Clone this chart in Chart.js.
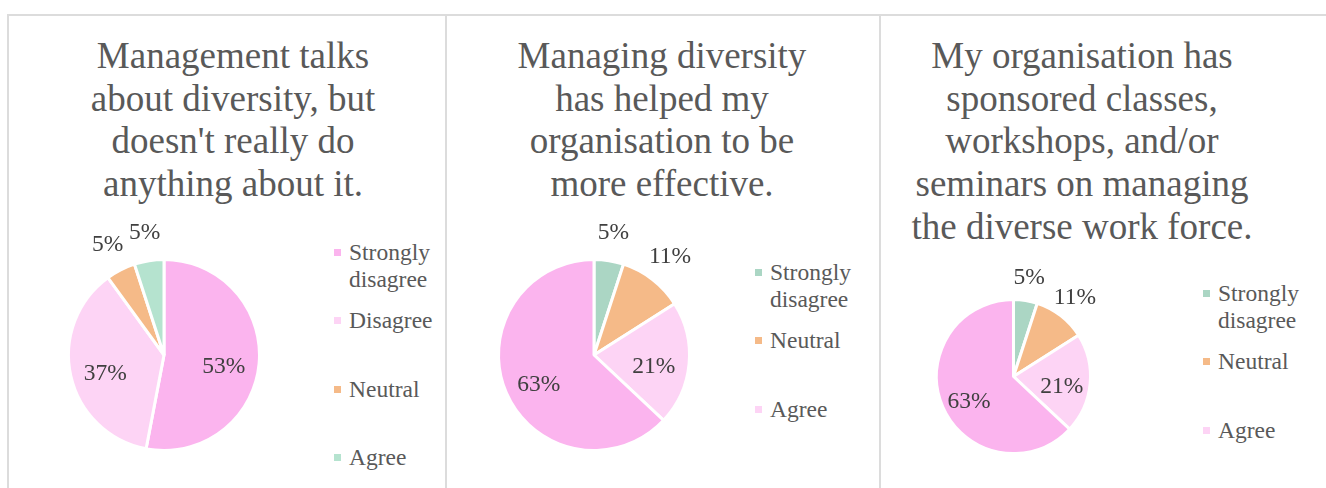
<!DOCTYPE html>
<html>
<head>
<meta charset="utf-8">
<script src="https://cdn.jsdelivr.net/npm/chart.js@4.4.1/dist/chart.umd.min.js"></script>
<style>
  html, body { margin: 0; padding: 0; background: #fff; }
  body { width: 1326px; height: 488px; position: relative; overflow: hidden; font-family: "Liberation Serif", "Times New Roman", serif; }
  .panel { position: absolute; top: 14px; height: 500px; border-top: 2px solid #dcdcdc; border-left: 2px solid #dcdcdc; box-sizing: border-box; }
  .title { position: absolute; text-align: center; color: #595959; font-size: 37px; line-height: 42.7px; white-space: nowrap; }
  .legend { position: absolute; color: #595959; font-size: 23.5px; line-height: 27px; }
  .legend .item { position: absolute; left: 0; white-space: nowrap; }
  .legend .box { position: absolute; width: 7px; height: 7px; left: 0; top: 10px; }
  .legend .text { position: absolute; left: 15px; top: 0; }
  canvas { position: absolute; }
</style>
</head>
<body>
<div class="panel" style="left:7px;width:440px;"></div>
<div class="panel" style="left:445px;width:436px;"></div>
<div class="panel" style="left:879px;width:460px;"></div>

<script>
// survey answers, percent of respondents
const titles1 = ['Management talks', 'about diversity, but', "doesn't really do", 'anything about it.'];
const labels1 = ['Strongly disagree', 'Disagree', 'Neutral', 'Agree'];
const values1 = [53, 37, 5, 5];

const titles2 = ['Managing diversity', 'has helped my', 'organisation to be', 'more effective.'];
const labels2 = ['Strongly disagree', 'Neutral', 'Agree', 'Strongly agree'];
const values2 = [5, 11, 21, 63];

const titles3 = ['My organisation has', 'sponsored classes,', 'workshops, and/or', 'seminars on managing', 'the diverse work force.'];
const labels3 = ['Strongly disagree', 'Neutral', 'Agree', 'Strongly agree'];
const values3 = [5, 11, 21, 63];

// legend only lists the first entries
const legendCount = [4, 3, 3];

const colors1 = ['#fbb4ee', '#fdd4f5', '#f5ba88', '#b5e3cf'];
const colors2 = ['#abd6c4', '#f5ba88', '#fdd4f5', '#fbb4ee'];
const colors3 = ['#abd6c4', '#f5ba88', '#fdd4f5', '#fbb4ee'];

const panels = [
  { titles: titles1, labels: labels1, values: values1, colors: colors1,
    titleX: 233, titleY: 35, cx: 163.5, cy: 355, r: 95.5, legendX: 334, legendY: 238.5 },
  { titles: titles2, labels: labels2, values: values2, colors: colors2,
    titleX: 662, titleY: 35, cx: 593.5, cy: 354.5, r: 95.5, legendX: 755, legendY: 258.5 },
  { titles: titles3, labels: labels3, values: values3, colors: colors3,
    titleX: 1082, titleY: 35, cx: 1013.5, cy: 376, r: 77, legendX: 1203, legendY: 279.5 }
];

const PAD = 60;
const BORDER = 3;
const SLOT = 68.5;

// percent labels: big slices inside, small ones pushed outside the pie
const pctLabels = {
  id: 'pctLabels',
  afterDatasetsDraw(chart) {
    const ctx = chart.ctx;
    const data = chart.data.datasets[0].data;
    const total = data.reduce((a, b) => a + b, 0);
    ctx.save();
    ctx.font = '23.5px "Liberation Serif", serif';
    ctx.fillStyle = '#404040';
    ctx.textAlign = 'center';
    ctx.textBaseline = 'middle';
    chart.getDatasetMeta(0).data.forEach((arc, i) => {
      const share = data[i] / total;
      const p = arc.getProps(['x', 'y', 'startAngle', 'endAngle', 'outerRadius'], true);
      const mid = (p.startAngle + p.endAngle) / 2;
      const dist = share < 0.15 ? p.outerRadius * 1.3 : p.outerRadius * 0.63;
      const x = p.x + Math.cos(mid) * dist;
      const y = p.y + Math.sin(mid) * dist;
      ctx.fillText(Math.round(share * 100) + '%', x, y + (share < 0.15 ? 0 : 6));
    });
    ctx.restore();
  }
};

panels.forEach((p, n) => {
  const title = document.createElement('div');
  title.className = 'title';
  title.style.left = (p.titleX - 250) + 'px';
  title.style.width = '500px';
  title.style.top = p.titleY + 'px';
  title.innerHTML = p.titles.join('<br>');
  document.body.appendChild(title);

  const size = Math.round(2 * p.r + BORDER + 2 * PAD);
  const canvas = document.createElement('canvas');
  canvas.width = size;
  canvas.height = size;
  canvas.style.left = (p.cx - size / 2) + 'px';
  canvas.style.top = (p.cy - size / 2) + 'px';
  document.body.appendChild(canvas);

  new Chart(canvas, {
    type: 'pie',
    data: {
      labels: p.labels,
      datasets: [{
        data: p.values,
        backgroundColor: p.colors,
        borderColor: '#ffffff',
        borderWidth: BORDER
      }]
    },
    options: {
      responsive: false,
      animation: false,
      events: [],
      layout: { padding: PAD },
      plugins: {
        legend: { display: false },
        tooltip: { enabled: false }
      }
    },
    plugins: [pctLabels]
  });

  const legend = document.createElement('div');
  legend.className = 'legend';
  legend.style.left = p.legendX + 'px';
  legend.style.top = p.legendY + 'px';
  p.labels.slice(0, legendCount[n]).forEach((label, i) => {
    const item = document.createElement('div');
    item.className = 'item';
    item.style.top = (i * SLOT) + 'px';
    const words = label.split(' ');
    item.innerHTML = '<span class="box" style="background:' + p.colors[i] + '"></span>' +
      '<span class="text">' + words.join('<br>') + '</span>';
    legend.appendChild(item);
  });
  document.body.appendChild(legend);
});
</script>
</body>
</html>
